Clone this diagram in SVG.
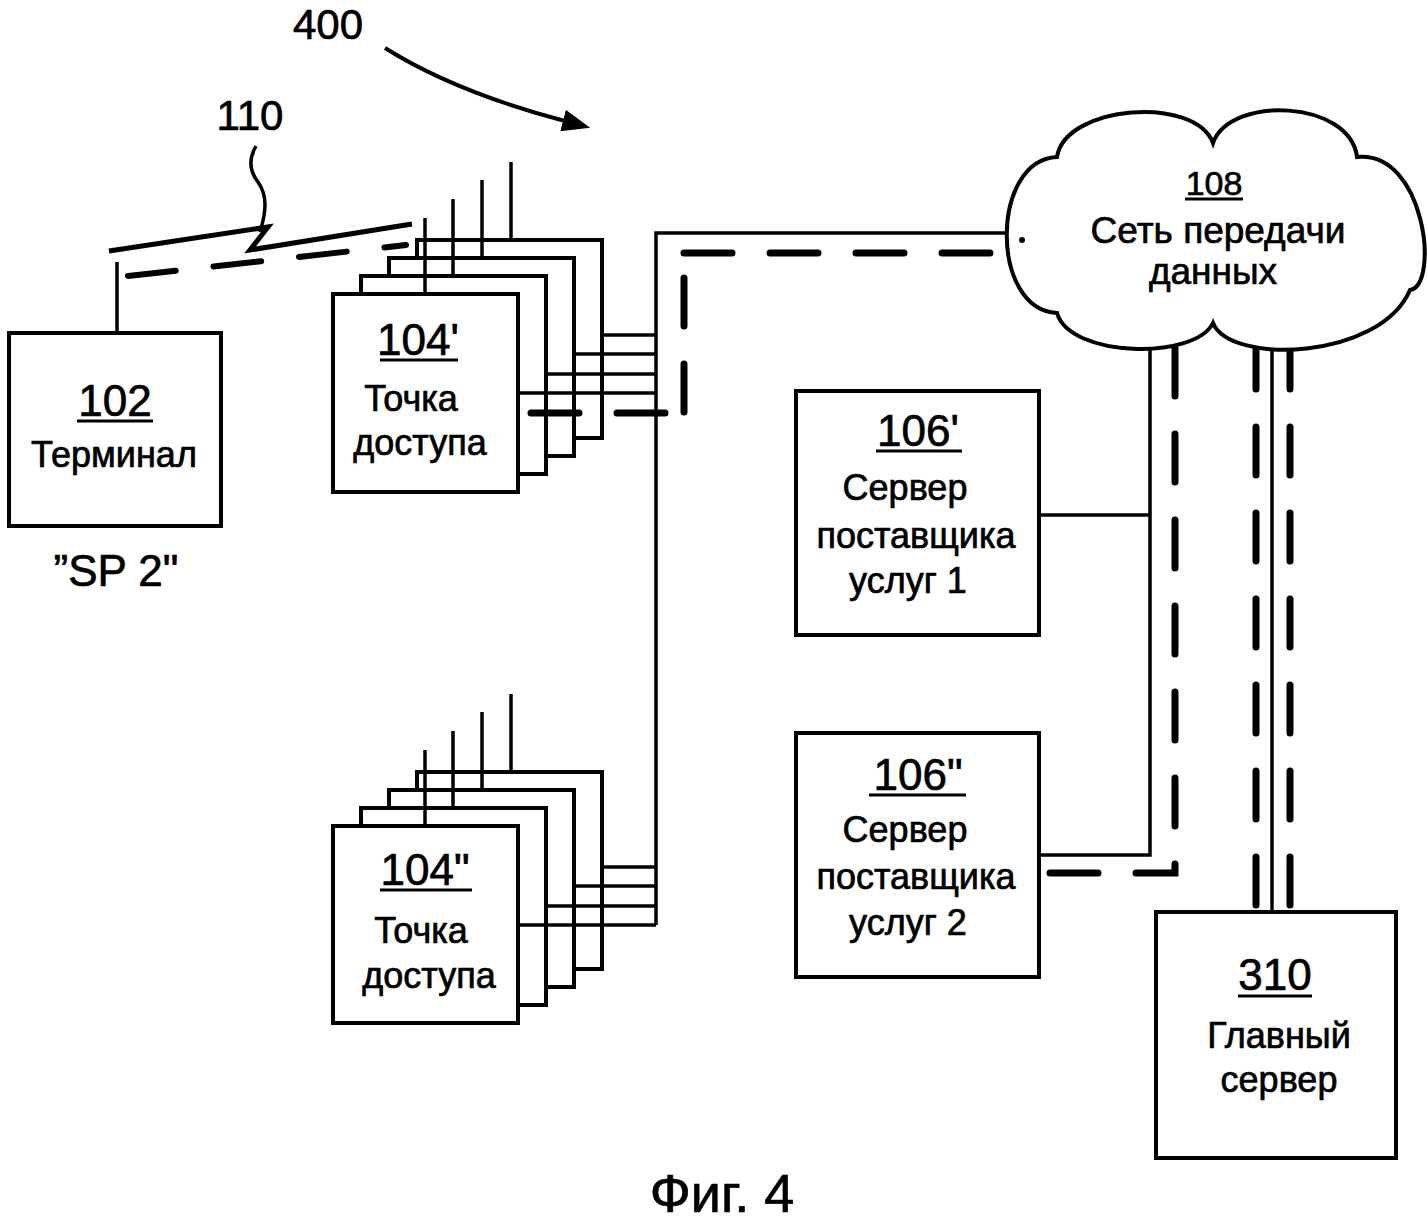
<svg xmlns="http://www.w3.org/2000/svg" width="1427" height="1222" viewBox="0 0 1427 1222">
<defs>
<style>
.box{fill:#fff;stroke:#000;stroke-width:4}
.ln{fill:none;stroke:#000;stroke-width:3.5}
.dash{fill:none;stroke:#000;stroke-width:7;stroke-dasharray:48 38;stroke-linecap:round}
.t{font-family:"Liberation Sans",Arial,sans-serif;font-size:36px;fill:#000;stroke:#000;stroke-width:0.7;text-anchor:middle}
.n{font-size:44px}
.ul{stroke:#000;stroke-width:3}
</style>
<marker id="ah" markerUnits="userSpaceOnUse" markerWidth="28" markerHeight="22" viewBox="0 0 28 22" refX="2" refY="11" orient="auto"><path d="M0,0 L28,11 L0,22 z" fill="#000"/></marker>
</defs>
<rect width="1427" height="1222" fill="#fff"/>

<g id="labels">
<text class="t" style="font-size:42px" x="328" y="39">400</text>
<path class="ln" style="stroke-width:4" d="M385,48 Q455,92 565,121" marker-end="url(#ah)"/>
<text class="t" style="font-size:42px" x="250" y="130">110</text>
<path class="ln" d="M256,146 C248,160 250,172 258,182 C268,196 266,212 260,232"/>
<text class="t n" x="116" y="586">”SP 2"</text>
<text class="t" style="font-size:54px" x="722" y="1212">Фиг. 4</text>
</g>

<g id="terminal-102">
<line class="ln" x1="117" y1="262" x2="117" y2="333"/>
<rect class="box" x="9" y="333" width="212" height="193"/>
<text class="t n" x="115" y="416">102</text>
<line class="ul" x1="77" y1="421" x2="153" y2="421"/>
<text class="t" x="114" y="467">Терминал</text>
</g>

<g id="access-point-104a">
<rect class="box" x="417" y="240" width="185" height="198"/>
<rect class="box" x="389" y="258" width="185" height="198"/>
<rect class="box" x="361" y="276" width="185" height="198"/>
<rect class="box" x="333" y="294" width="185" height="198"/>
<line class="ln" x1="425" y1="218" x2="425" y2="294"/>
<line class="ln" x1="453" y1="199" x2="453" y2="276"/>
<line class="ln" x1="482" y1="180" x2="482" y2="258"/>
<line class="ln" x1="511" y1="162" x2="511" y2="240"/>
<text class="t n" x="418" y="355">104'</text>
<line class="ul" x1="380" y1="360" x2="458" y2="360"/>
<text class="t" x="411" y="411">Точка</text>
<text class="t" x="420" y="455">доступа</text>
</g>

<g id="access-point-104b">
<rect class="box" x="417" y="772" width="185" height="197"/>
<rect class="box" x="389" y="790" width="185" height="197"/>
<rect class="box" x="361" y="808" width="185" height="197"/>
<rect class="box" x="333" y="826" width="185" height="197"/>
<line class="ln" x1="425" y1="750" x2="425" y2="826"/>
<line class="ln" x1="453" y1="731" x2="453" y2="808"/>
<line class="ln" x1="482" y1="712" x2="482" y2="790"/>
<line class="ln" x1="511" y1="694" x2="511" y2="772"/>
<text class="t n" x="425" y="885">104"</text>
<line class="ul" x1="380" y1="890" x2="472" y2="890"/>
<text class="t" x="421" y="943">Точка</text>
<text class="t" x="429" y="988">доступа</text>
</g>

<g id="server-106a">
<rect class="box" x="796" y="391" width="243" height="244"/>
<text class="t n" x="918" y="446">106'</text>
<line class="ul" x1="876" y1="451" x2="962" y2="451"/>
<text class="t" x="905" y="500">Сервер</text>
<text class="t" x="916" y="548">поставщика</text>
<text class="t" x="908" y="593">услуг 1</text>
</g>

<g id="server-106b">
<rect class="box" x="796" y="733" width="243" height="244"/>
<text class="t n" x="918" y="790">106"</text>
<line class="ul" x1="869" y1="795" x2="966" y2="795"/>
<text class="t" x="905" y="842">Сервер</text>
<text class="t" x="916" y="889">поставщика</text>
<text class="t" x="908" y="935">услуг 2</text>
</g>

<g id="server-310">
<rect class="box" x="1156" y="912" width="240" height="246"/>
<text class="t n" x="1275" y="990">310</text>
<line class="ul" x1="1238" y1="996" x2="1312" y2="996"/>
<text class="t" x="1279" y="1048">Главный</text>
<text class="t" x="1279" y="1092">сервер</text>
</g>

<g id="connectors">
<path class="ln" d="M656,925 V233 H1030"/>
<line class="ln" x1="602" y1="335" x2="656" y2="335"/>
<line class="ln" x1="574" y1="354" x2="656" y2="354"/>
<line class="ln" x1="546" y1="374" x2="656" y2="374"/>
<line class="ln" x1="518" y1="393" x2="656" y2="393"/>
<line class="ln" x1="602" y1="867" x2="656" y2="867"/>
<line class="ln" x1="574" y1="886" x2="656" y2="886"/>
<line class="ln" x1="546" y1="906" x2="656" y2="906"/>
<line class="ln" x1="518" y1="925" x2="656" y2="925"/>
<path class="ln" d="M1150,330 V855 H1039"/>
<line class="ln" x1="1039" y1="515" x2="1150" y2="515"/>
<line class="ln" x1="1272" y1="330" x2="1272" y2="912"/>
<path class="ln" style="stroke-width:5" d="M109,251 L268,227 L250,250 L412,224"/>
<path class="dash" style="stroke-width:6" d="M128,276 L406,245"/>
<path class="dash" d="M531,413 H672"/>
<path class="dash" d="M684,412 V256"/>
<path class="dash" d="M684,253 H1004"/>
<path class="dash" d="M1050,873 H1175 V330"/>
<path class="dash" d="M1256,905 V330"/>
<path class="dash" d="M1290,905 V330"/>
</g>

<g id="network-108">
<path class="box" d="M1057,157 C1065,105 1195,95 1213,143 C1230,95 1350,100 1357,157 C1425,150 1440,285 1410,290 C1380,360 1230,365 1213,323 C1195,360 1070,358 1057,313 C990,310 990,160 1057,157 Z"/>
<circle cx="1022" cy="240" r="3"/>
<text class="t" style="font-size:34px" x="1214" y="195">108</text>
<line class="ul" x1="1185" y1="199" x2="1243" y2="199"/>
<text class="t" style="font-size:37px" x="1218" y="243">Сеть передачи</text>
<text class="t" style="font-size:37px" x="1213" y="284">данных</text>
</g>
</svg>
